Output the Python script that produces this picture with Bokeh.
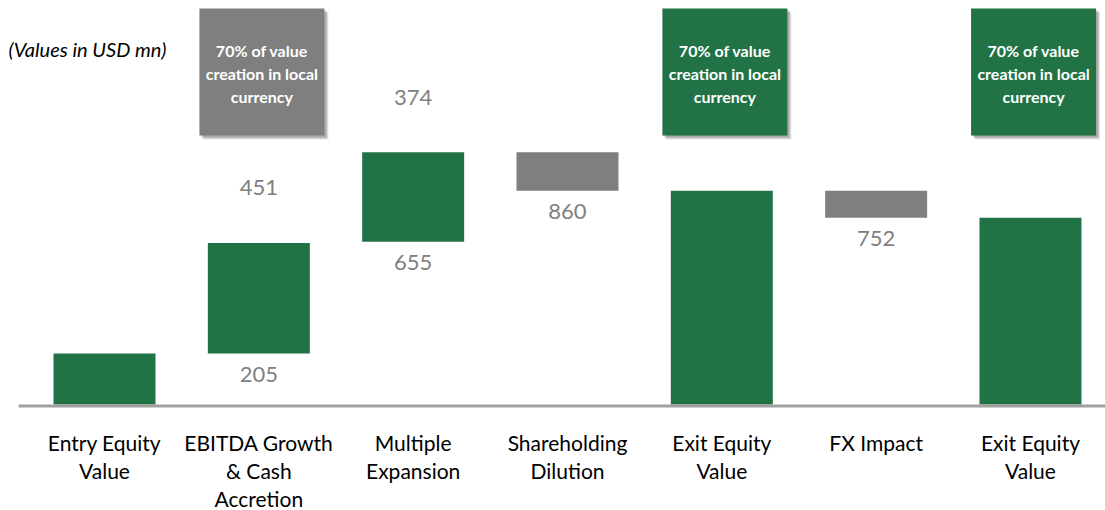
from bokeh.plotting import figure
from bokeh.models import Range1d, ColumnDataSource
from bokeh.core.properties import value
from bokeh.embed import file_html
from bokeh.resources import INLINE

# ---------------- data ----------------
categories = ["Entry Equity\nValue", "EBITDA Growth\n& Cash\nAccretion", "Multiple\nExpansion",
              "Shareholding\nDilution", "Exit Equity\nValue", "FX Impact", "Exit Equity\nValue"]
bar_bottom = [0, 205, 655, 860, 0, 752, 0]
bar_top = [205, 650, 1015, 1015, 860, 860, 752]
bar_kind = ["total", "up", "up", "down", "total", "down", "total"]
top_labels = ["", "451", "374", "", "", "", ""]
bottom_labels = ["", "205", "655", "860", "", "752", ""]
note_cats = [1, 4, 6]
note_kind = ["gray", "green", "green"]
note_text = ["70% of value\ncreation in local\ncurrency"] * 3
unit_note = "(Values in USD mn)"

GREEN = "#217346"
GRAY = "#7f7f7f"
LABEL_GRAY = "#808080"
FONT = "Lato"

# ---------------- geometry ----------------
W, H = 1105, 510
XPX = 154.33            # px per category
XC0 = 104.0             # px of first category centre
BASE_PX = 404.0         # px of baseline from top
YPX = 0.2485            # px per unit
x_start = -XC0 / XPX
x_end = x_start + W / XPX
y_end = BASE_PX / YPX
y_start = -(H - BASE_PX) / YPX

p = figure(width=W, height=H, output_backend="svg", toolbar_location=None,
           x_range=Range1d(x_start, x_end), y_range=Range1d(y_start, y_end),
           min_border=0, min_border_left=0, min_border_right=0, min_border_top=0, min_border_bottom=0)
p.axis.visible = False
p.grid.visible = False
p.outline_line_color = None
p.background_fill_color = "white"
p.border_fill_color = "white"

xs = list(range(len(categories)))
colors = [GREEN if k in ("total", "up") else GRAY for k in bar_kind]
src = ColumnDataSource(dict(x=xs, b=bar_bottom, t=bar_top, c=colors,
                            tl=top_labels, bl=bottom_labels))
bw = 102 / XPX
p.vbar(x="x", bottom="b", top="t", width=bw, fill_color="c", line_color=None, source=src)

# baseline
p.segment(x0=[(18 - XC0) / XPX], y0=[-6], x1=[x_end], y1=[-6], line_color="#a0a0a0", line_width=3)

# value labels
p.text(x="x", y="t", text="tl", source=src, text_align="center", text_baseline="middle",
       y_offset=-55, text_font=value(FONT), text_font_size="22px", text_color=LABEL_GRAY)
p.text(x="x", y="b", text="bl", source=src, text_align="center", text_baseline="middle",
       y_offset=21, text_font=value(FONT), text_font_size="22px", text_color=LABEL_GRAY)

# category labels (split into lines)
for li in range(3):
    lx, lt = [], []
    for i, c in enumerate(categories):
        parts = c.split("\n")
        if li < len(parts):
            lx.append(i)
            lt.append(parts[li])
    p.text(x=lx, y=[0] * len(lx), text=lt, text_align="center", text_baseline="middle",
           y_offset=38 + 28 * li, text_font=value(FONT), text_font_size="21px", text_color="#000000")

# note boxes
box_w = 125 / XPX
box_top = (BASE_PX - 8) / YPX
box_bot = (BASE_PX - 135) / YPX
ncol = [GRAY if k == "gray" else GREEN for k in note_kind]
nleft = [c + 0.02 - box_w / 2 for c in note_cats]
nright = [c + 0.02 + box_w / 2 for c in note_cats]
for d, a in ((4, 0.10), (3, 0.12), (2, 0.15)):
    p.quad(left=[l + d / XPX for l in nleft], right=[r + d / XPX for r in nright],
           top=[box_top - d / YPX] * 3, bottom=[box_bot - d / YPX] * 3,
           fill_color="black", fill_alpha=a, line_color=None)
p.quad(left=nleft, right=nright, top=[box_top] * 3, bottom=[box_bot] * 3,
       fill_color=ncol, line_color=None)
ncx = [c + 0.02 for c in note_cats]
ncy = (BASE_PX - 73) / YPX
for li in range(3):
    p.text(x=ncx, y=[ncy] * 3, text=[t.split("\n")[li] for t in note_text],
           text_align="center", text_baseline="middle", y_offset=-23 + 23 * li,
           text_font=value(FONT), text_font_size="16px", text_font_style="bold", text_color="white")

# unit note
p.text(x=[(8 - XC0) / XPX], y=[(BASE_PX - 48) / YPX], text=[unit_note], text_align="left",
       text_baseline="middle", text_font=value(FONT), text_font_size="20px",
       text_font_style="italic", text_color="#000000")

open("out.html", "w").write(file_html(p, INLINE))
